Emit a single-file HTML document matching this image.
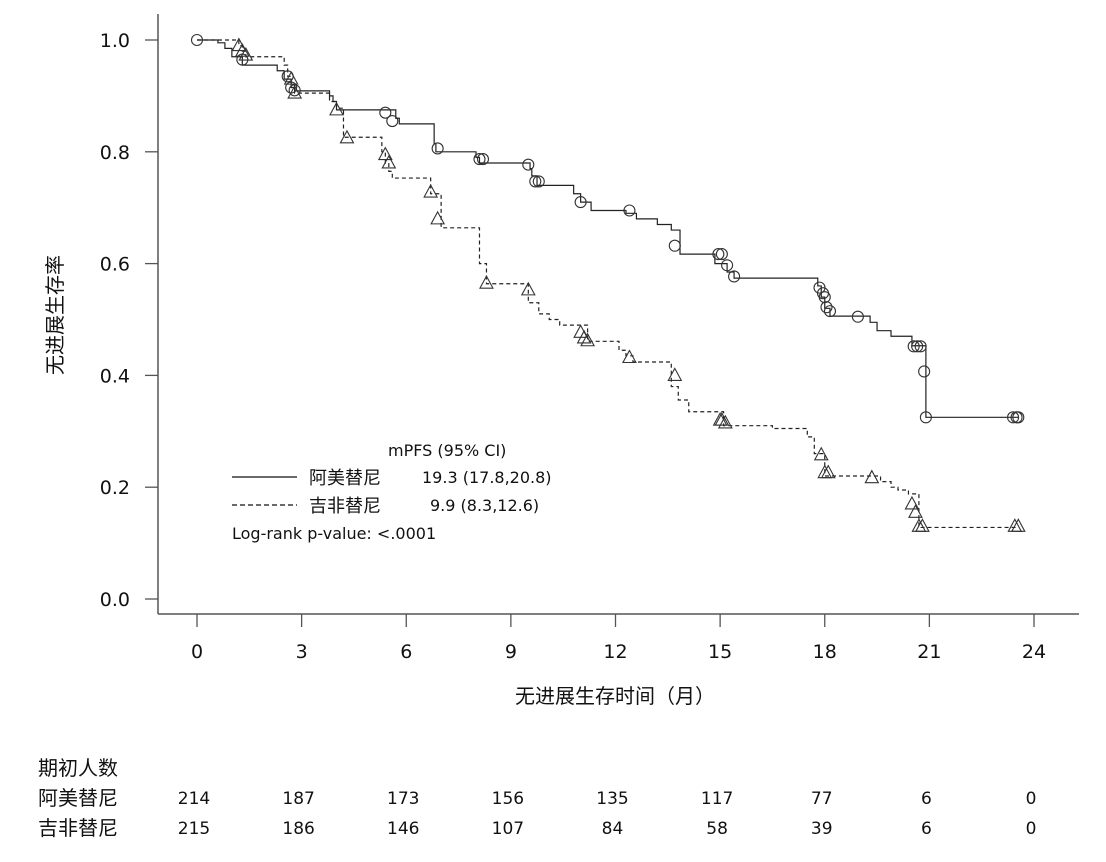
<!DOCTYPE html>
<html><head><meta charset="utf-8"><style>
html,body{margin:0;padding:0;background:#fff;}
svg{display:block;font-family:"DejaVu Sans","Noto Sans CJK SC",sans-serif;}
</style></head><body>
<svg id="chart" width="1106" height="862" viewBox="0 0 1106 862">
<g id="axes"></g>
<g id="curves"></g>
<g id="legend">
<text x="388" y="456" font-size="16" fill="#111">mPFS (95% CI)</text>
<line x1="232" y1="477" x2="297" y2="477" stroke="#111" stroke-width="1.3"/>
<text x="309" y="484" font-size="18" fill="#111">阿美替尼</text>
<text x="422" y="483" font-size="16" fill="#111">19.3 (17.8,20.8)</text>
<line x1="232" y1="505" x2="297" y2="505" stroke="#111" stroke-width="1.3" stroke-dasharray="5,3"/>
<text x="309" y="512" font-size="18" fill="#111">吉非替尼</text>
<text x="430" y="511" font-size="16" fill="#111">9.9 (8.3,12.6)</text>
<text x="232" y="539" font-size="16" fill="#111">Log-rank p-value: &lt;.0001</text>
</g>
<g id="risk"></g>
</svg>
<script>
const xTicks = [0,3,6,9,12,15,18,21,24];
const yTicks = [0.0,0.2,0.4,0.6,0.8,1.0];
const yTickLabels = ["0.0","0.2","0.4","0.6","0.8","1.0"];
const aTimes = [0,0.6,0.8,1.0,1.3,2.3,2.5,2.7,2.8,3.8,3.9,4.0,5.7,5.8,6.8,6.85,8.0,8.1,9.55,9.6,9.75,10.8,11.0,11.3,12.3,12.6,13.2,13.6,13.85,14.85,15.2,15.4,17.8,17.9,18.0,18.15,19.3,19.5,19.9,20.5,20.9];
const aSurv = [1.0,0.995,0.985,0.97,0.955,0.945,0.93,0.915,0.909,0.9,0.89,0.875,0.86,0.85,0.815,0.80,0.79,0.78,0.77,0.757,0.74,0.725,0.71,0.695,0.69,0.68,0.67,0.66,0.617,0.60,0.585,0.574,0.56,0.54,0.52,0.506,0.495,0.48,0.47,0.453,0.325];
const aEnd = 23.55;
const bTimes = [0,1.2,1.3,1.4,2.5,2.6,2.7,2.8,3.8,4.0,4.2,5.3,5.4,5.5,5.6,6.7,7.0,8.1,8.3,9.5,9.8,10.1,10.4,11.2,12.1,12.3,12.5,13.6,13.8,14.1,15.1,16.5,17.5,17.7,18.0,19.6,19.9,20.1,20.4,20.7];
const bSurv = [1.0,0.99,0.98,0.97,0.955,0.935,0.92,0.905,0.89,0.878,0.826,0.8,0.78,0.765,0.753,0.725,0.664,0.6,0.564,0.53,0.51,0.5,0.49,0.461,0.445,0.435,0.424,0.38,0.356,0.335,0.31,0.305,0.29,0.26,0.22,0.21,0.2,0.195,0.188,0.128];
const bEnd = 23.55;
const aCensT = [0,1.3,2.6,2.7,2.8,5.4,5.6,6.9,8.1,8.2,9.5,9.7,9.8,11.0,12.4,13.7,14.95,15.05,15.2,15.4,17.85,17.95,18.0,18.05,18.15,18.95,20.55,20.65,20.75,20.85,20.9,23.4,23.5,23.55];
const aCensS = [1.0,0.965,0.935,0.915,0.91,0.87,0.855,0.806,0.787,0.787,0.777,0.747,0.747,0.71,0.695,0.632,0.617,0.617,0.597,0.577,0.557,0.547,0.54,0.522,0.515,0.505,0.452,0.452,0.452,0.407,0.325,0.325,0.325,0.325];
const bCensT = [1.2,1.3,1.4,2.7,2.8,4.0,4.3,5.4,5.5,6.7,6.9,8.3,9.5,11.0,11.1,11.2,12.4,13.7,15.0,15.05,15.15,17.9,18.0,18.1,19.35,20.5,20.6,20.7,20.8,23.45,23.55];
const bCensS = [0.99,0.98,0.973,0.93,0.905,0.875,0.825,0.795,0.78,0.728,0.68,0.565,0.553,0.477,0.467,0.462,0.432,0.40,0.32,0.32,0.315,0.258,0.226,0.226,0.217,0.17,0.155,0.13,0.13,0.13,0.13];
const riskA = [214,187,173,156,135,117,77,6,0];
const riskB = [215,186,146,107,84,58,39,6,0];

const NS="http://www.w3.org/2000/svg";
const X = t => 197 + t*34.875;
const Y = s => 599 - s*559;
function mk(tag, attrs, parent, txt){const e=document.createElementNS(NS,tag);for(const k in attrs)e.setAttribute(k,attrs[k]);if(txt!==undefined)e.textContent=txt;parent.appendChild(e);return e;}
const axes=document.getElementById('axes'), curves=document.getElementById('curves'), risk=document.getElementById('risk');

let e=mk('line',{x1:158,y1:14,x2:158,y2:614,stroke:'#555','stroke-width':1.5},axes);


e=mk('line',{x1:158,y1:614,x2:1079,y2:614,stroke:'#555','stroke-width':1.5},axes);


xTicks.forEach(t=>{
  let l=mk('line',{x1:X(t),y1:614,x2:X(t),y2:627,stroke:'#555','stroke-width':1.3},axes);
  
  
  let tx=mk('text',{x:X(t),y:658,'font-size':19,'text-anchor':'middle',fill:'#111'},axes,String(t));
  
  
});
yTicks.forEach((v,i)=>{
  let l=mk('line',{x1:145,y1:Y(v),x2:158,y2:Y(v),stroke:'#555','stroke-width':1.3},axes);
  
  
  let tx=mk('text',{x:130,y:Y(v)+7,'font-size':19,'text-anchor':'end',fill:'#111'},axes,yTickLabels[i]);
  
  
});
e=mk('text',{x:0,y:0,'font-size':20,'text-anchor':'middle',fill:'#111',transform:'translate(62,315) rotate(-90)'},axes,'无进展生存率');


e=mk('text',{x:615,y:703,'font-size':20,'text-anchor':'middle',fill:'#111'},axes,'无进展生存时间（月）');



function stepPath(ts,ss,end){let d='M'+X(ts[0])+','+Y(ss[0]);for(let i=1;i<ts.length;i++){d+=' H'+X(ts[i])+' V'+Y(ss[i]);}d+=' H'+X(end);return d;}
e=mk('path',{d:stepPath(aTimes,aSurv,aEnd),fill:'none',stroke:'#222','stroke-width':1.2},curves);


e=mk('path',{d:stepPath(bTimes,bSurv,bEnd),fill:'none',stroke:'#222','stroke-width':1.2,'stroke-dasharray':'4,3'},curves);


aCensT.forEach((t,i)=>{
  let c=mk('circle',{cx:X(t),cy:Y(aCensS[i]),r:5.5,fill:'none',stroke:'#333','stroke-width':1.1},curves);
  
  
});
bCensT.forEach((t,i)=>{
  const x=X(t),y=Y(bCensS[i]);
  let p=mk('polygon',{points:`${x},${y-7} ${x-6.5},${y+5} ${x+6.5},${y+5}`,fill:'none',stroke:'#333','stroke-width':1.1},curves);
  
  
});

e=mk('text',{x:38,y:775,'font-size':20,fill:'#111'},risk,'期初人数');


e=mk('text',{x:38,y:805,'font-size':20,fill:'#111'},risk,'阿美替尼');


e=mk('text',{x:38,y:835,'font-size':20,fill:'#111'},risk,'吉非替尼');


xTicks.forEach((t,i)=>{
  let a=mk('text',{x:X(t)-3,y:804,'font-size':17,'text-anchor':'middle',fill:'#111'},risk,String(riskA[i]));
  
  
  let b=mk('text',{x:X(t)-3,y:834,'font-size':17,'text-anchor':'middle',fill:'#111'},risk,String(riskB[i]));
  
  
});
</script>
</body></html>
